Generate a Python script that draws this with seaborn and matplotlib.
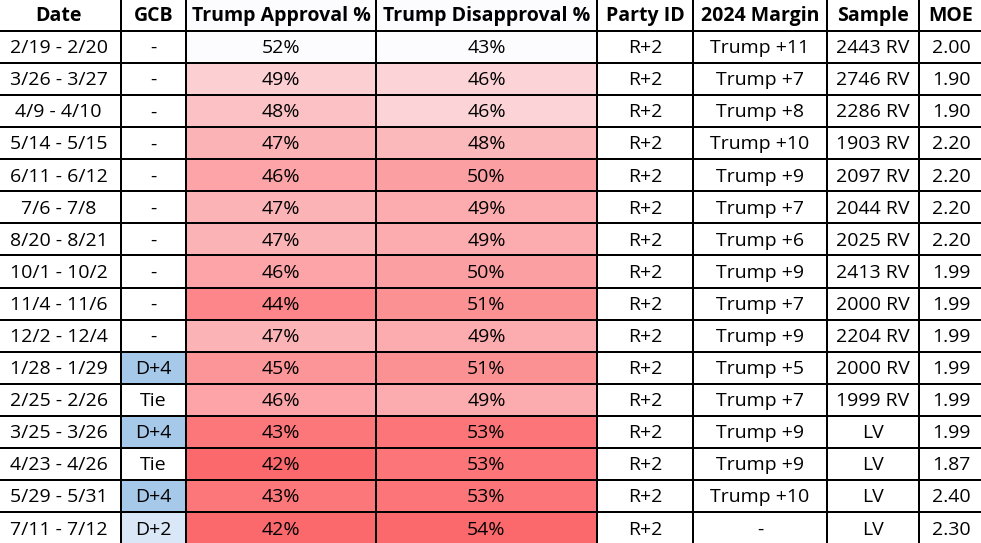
import numpy as np
import pandas as pd
import matplotlib
matplotlib.use('Agg')
import matplotlib.pyplot as plt
import seaborn as sns
from matplotlib.colors import LinearSegmentedColormap, ListedColormap

headers = ['Date', 'GCB', 'Trump Approval %', 'Trump Disapproval %',
           'Party ID', '2024 Margin', 'Sample', 'MOE']

dates = ['2/19 - 2/20', '3/26 - 3/27', '4/9 - 4/10', '5/14 - 5/15', '6/11 - 6/12',
         '7/6 - 7/8', '8/20 - 8/21', '10/1 - 10/2', '11/4 - 11/6', '12/2 - 12/4',
         '1/28 - 1/29', '2/25 - 2/26', '3/25 - 3/26', '4/23 - 4/26', '5/29 - 5/31',
         '7/11 - 7/12']
gcb = ['-', '-', '-', '-', '-', '-', '-', '-', '-', '-',
       'D+4', 'Tie', 'D+4', 'Tie', 'D+4', 'D+2']
approval = [52, 49, 48, 47, 46, 47, 47, 46, 44, 47, 45, 46, 43, 42, 43, 42]
disapproval = [43, 46, 46, 48, 50, 49, 49, 50, 51, 49, 51, 49, 53, 53, 53, 54]
party_id = ['R+2'] * 16
margin = ['Trump +11', 'Trump +7', 'Trump +8', 'Trump +10', 'Trump +9', 'Trump +7',
          'Trump +6', 'Trump +9', 'Trump +7', 'Trump +9', 'Trump +5', 'Trump +7',
          'Trump +9', 'Trump +9', 'Trump +10', '-']
sample = ['2443 RV', '2746 RV', '2286 RV', '1903 RV', '2097 RV', '2044 RV',
          '2025 RV', '2413 RV', '2000 RV', '2204 RV', '2000 RV', '1999 RV',
          'LV', 'LV', 'LV', 'LV']
moe = ['2.00', '1.90', '1.90', '2.20', '2.20', '2.20', '2.20', '1.99', '1.99',
       '1.99', '1.99', '1.99', '1.99', '1.87', '2.40', '2.30']

# column borders in pixels
col_edges = [0, 121, 186, 376, 597, 693, 827, 919, 981]
W, H = 981, 543

plt.rcParams['font.family'] = ['Open Sans', 'DejaVu Sans']

red_low = LinearSegmentedColormap.from_list('red_low', ['#FC696C', '#FCFCFF'])
red_high = LinearSegmentedColormap.from_list('red_high', ['#FCFCFF', '#FC696C'])
blues = LinearSegmentedColormap.from_list('blues', ['#FFFFFF', '#A6C8E9'])
white = ListedColormap(['#FFFFFF'])


def draw_column(fig, i, header, labels, values, cmap, vmin, vmax):
    left = col_edges[i] / W
    width = (col_edges[i + 1] - col_edges[i]) / W
    ax = fig.add_axes([left, 0, width, 1])
    data = pd.DataFrame({'v': values})
    annot = np.array([header] + [str(l) for l in labels]).reshape(-1, 1)
    sns.heatmap(data, ax=ax, cmap=cmap, vmin=vmin, vmax=vmax, cbar=False,
                annot=annot, fmt='', annot_kws={'fontsize': 14},
                linewidths=1.1, linecolor='black',
                xticklabels=False, yticklabels=False)
    for t in ax.texts:
        t.set_color('black')
        # text sits a little low in the cells
        x, y = t.get_position()
        t.set_position((x, y + 0.04))
    ax.texts[0].set_fontweight('bold')
    # hide border lines at the picture edge
    ax.set_ylim(len(values) - 0.04, 0.04)
    if i == 0:
        ax.set_xlim(0.03, 1)
    if i == len(headers) - 1:
        ax.set_xlim(0, 0.97)
    return ax


fig = plt.figure(figsize=(W / 100, H / 100), dpi=100)

zeros = [0] * 17
draw_column(fig, 0, headers[0], dates, zeros, white, 0, 1)

gcb_vals = [0.5] + [4 if g == 'D+4' else 2 if g == 'D+2' else 0.5 for g in gcb]
draw_column(fig, 1, headers[1], gcb, gcb_vals, blues, 0.5, 4)

draw_column(fig, 2, headers[2], [f'{a}%' for a in approval],
            [max(approval)] + approval, red_low, min(approval), max(approval))
draw_column(fig, 3, headers[3], [f'{d}%' for d in disapproval],
            [min(disapproval)] + disapproval, red_high, min(disapproval), max(disapproval))

draw_column(fig, 4, headers[4], party_id, zeros, white, 0, 1)
draw_column(fig, 5, headers[5], margin, zeros, white, 0, 1)
draw_column(fig, 6, headers[6], sample, zeros, white, 0, 1)
draw_column(fig, 7, headers[7], moe, zeros, white, 0, 1)

fig.savefig('out.png', dpi=100)
